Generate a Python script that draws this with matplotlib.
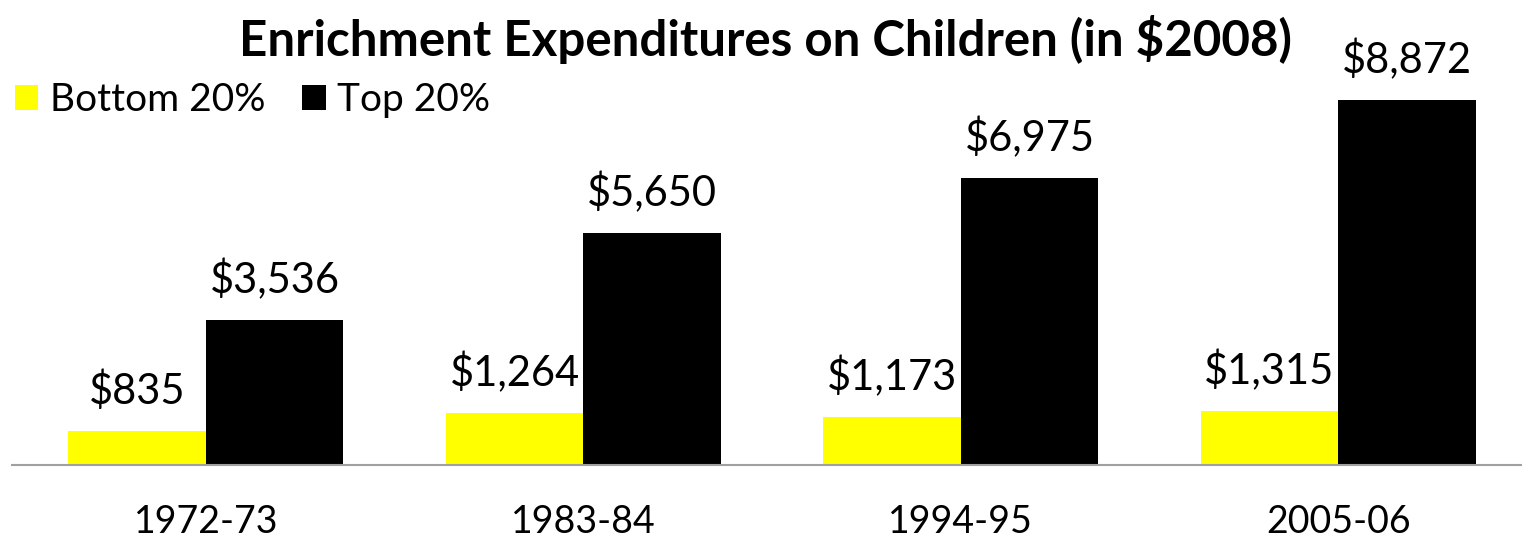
import matplotlib
matplotlib.use("Agg")
import matplotlib.pyplot as plt
import numpy as np

plt.rcParams["font.family"] = ["Lato", "DejaVu Sans"]

periods = ["1972-73", "1983-84", "1994-95", "2005-06"]
bottom_20 = [835, 1264, 1173, 1315]
top_20 = [3536, 5650, 6975, 8872]

W, H = 1522, 537
fig = plt.figure(figsize=(W / 100, H / 100), dpi=100)
ax = fig.add_axes([17 / W, (H - 465) / H, 1510 / W, 405 / H])

x = np.arange(len(periods))
width = 0.364
b1 = ax.bar(x - width / 2, bottom_20, width, color="#ffff00", label="Bottom 20%")
b2 = ax.bar(x + width / 2, top_20, width, color="#000000", label="Top 20%")

for bars in (b1, b2):
    for rect in bars:
        v = rect.get_height()
        ax.annotate(f"${v:,.0f}", (rect.get_x() + rect.get_width() / 2, v),
                    xytext=(0, 14), textcoords="offset points",
                    ha="center", va="bottom", fontsize=30)

ax.set_xlim(-0.5, 3.5)
ax.set_ylim(0, 405 / 0.04114)
ax.set_xticks(x)
ax.set_xticklabels(periods, fontsize=27)
ax.tick_params(axis="x", length=0, pad=28)
ax.set_yticks([])
for s in ("top", "left", "right"):
    ax.spines[s].set_visible(False)
ax.spines["bottom"].set_color("#a0a0a0")
ax.spines["bottom"].set_linewidth(1.5)
ax.spines["bottom"].set_bounds(-0.5 - 5 / 377.5, 3.5)

fig.text(0.503, 1 - 40 / H, "Enrichment Expenditures on Children (in $2008)",
         ha="center", va="center", fontsize=35.5, fontweight="bold")

ax.legend(loc="upper left", bbox_to_anchor=(15 / W, 1 - 82 / H), bbox_transform=fig.transFigure,
          ncol=2, frameon=False, fontsize=28, handlelength=0.6, handleheight=0.6,
          handletextpad=0.3, columnspacing=0.95, borderaxespad=0, borderpad=0)

fig.savefig("out.png", dpi=100)
